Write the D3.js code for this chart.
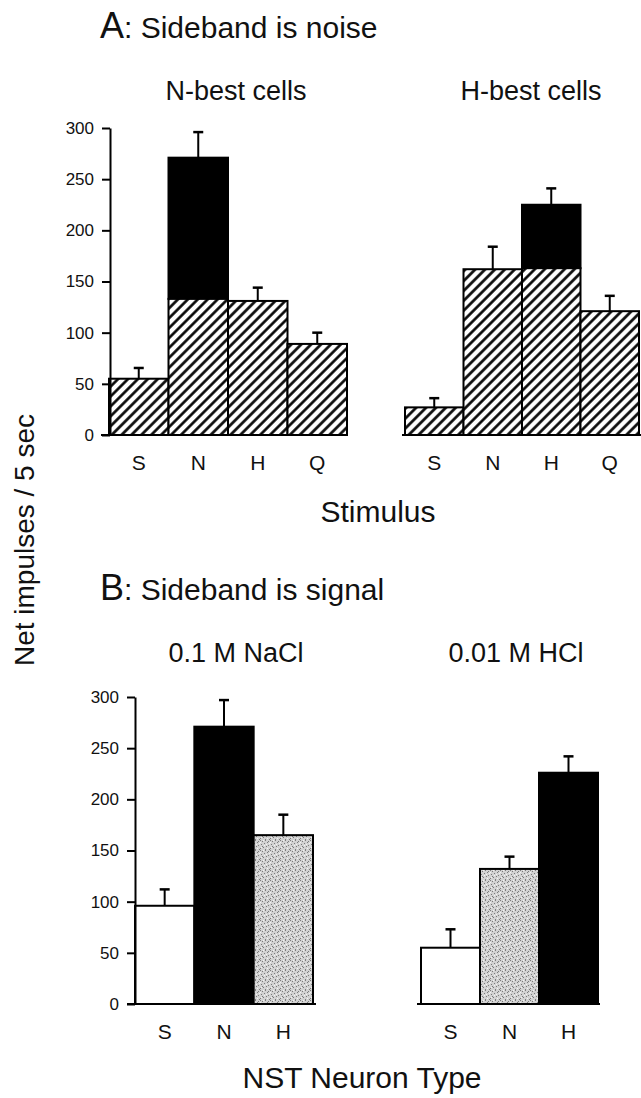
<!DOCTYPE html>
<html>
<head>
<meta charset="utf-8">
<script src="https://cdn.jsdelivr.net/npm/d3@7"></script>
<style>
  body { margin: 0; background: #fff; }
  svg text { font-family: "Liberation Sans", Arial, sans-serif; fill: #111; }
</style>
</head>
<body>
<div id="chart"></div>
<script>
// panel A: sideband is noise
const stimuli = ["S", "N", "H", "Q"];
const nBestBase = [55, 133, 131, 89];      // hatched part
const nBestTotal = [55, 271, 131, 89];     // total incl. sideband (black)
const nBestSem = [10.5, 25, 13, 11];
const hBestBase = [27, 162, 163, 121];
const hBestTotal = [27, 162, 225, 121];
const hBestSem = [9, 22, 16, 15];

// panel B: sideband is signal
const neuronTypes = ["S", "N", "H"];
const naclMean = [96, 271, 165];
const naclSem = [16, 26, 20];
const naclFill = ["white", "black", "gray"];
const hclMean = [55, 132, 226];
const hclSem = [18, 12, 16];
const hclFill = ["white", "gray", "black"];

const yTicks = [0, 50, 100, 150, 200, 250, 300];

const svg = d3.select("#chart").append("svg")
    .attr("width", 641)
    .attr("height", 1098);

// patterns
const defs = svg.append("defs");
const hatch = defs.append("pattern")
    .attr("id", "hatch")
    .attr("patternUnits", "userSpaceOnUse")
    .attr("width", 7).attr("height", 7)
    .attr("patternTransform", "rotate(45)");
hatch.append("rect").attr("width", 7).attr("height", 7).attr("fill", "white");
hatch.append("line")
    .attr("x1", 1.5).attr("y1", 0).attr("x2", 1.5).attr("y2", 7)
    .attr("stroke", "black").attr("stroke-width", 2.6);

// stippled grey (scanned halftone look)
const stip = defs.append("pattern")
    .attr("id", "stipple")
    .attr("patternUnits", "userSpaceOnUse")
    .attr("width", 10).attr("height", 10);
stip.append("rect").attr("width", 10).attr("height", 10).attr("fill", "#d2d2d2");
const darkDots = [[0,0],[2,1],[5,0],[7,2],[1,4],[4,3],[8,5],[6,6],[3,7],[0,8],[9,9],[5,9],[2,6],[8,1]];
const whiteDots = [[3,0],[9,3],[6,4],[1,7],[7,8],[4,5],[0,2]];
darkDots.forEach(p => stip.append("rect").attr("x", p[0]).attr("y", p[1])
    .attr("width", 1).attr("height", 1).attr("fill", "#7a7a7a"));
whiteDots.forEach(p => stip.append("rect").attr("x", p[0]).attr("y", p[1])
    .attr("width", 1).attr("height", 1).attr("fill", "#f4f4f4"));

const fillFor = { white: "white", black: "black", gray: "url(#stipple)" };

function drawPanel(opt) {
  const x = d3.scaleBand().domain(opt.cats).range(opt.xRange).padding(0);
  const y = d3.scaleLinear().domain([0, 300]).range(opt.yRange);
  const g = svg.append("g");

  const rows = opt.cats.map((c, i) => ({
    cat: c,
    base: opt.base[i],
    total: opt.total[i],
    sem: opt.sem[i],
    fill: opt.fills ? opt.fills[i] : null
  }));

  // error bars
  const eb = g.selectAll(".err").data(rows).enter().append("g");
  eb.append("line")
    .attr("x1", d => x(d.cat) + x.bandwidth() / 2)
    .attr("x2", d => x(d.cat) + x.bandwidth() / 2)
    .attr("y1", d => y(d.total))
    .attr("y2", d => y(d.total + d.sem))
    .attr("stroke", "black").attr("stroke-width", 2);
  eb.append("line")
    .attr("x1", d => x(d.cat) + x.bandwidth() / 2 - 5)
    .attr("x2", d => x(d.cat) + x.bandwidth() / 2 + 5)
    .attr("y1", d => y(d.total + d.sem))
    .attr("y2", d => y(d.total + d.sem))
    .attr("stroke", "black").attr("stroke-width", 2.5);

  // black sideband part
  g.selectAll(".side").data(rows.filter(d => d.total > d.base)).enter().append("rect")
    .attr("x", d => x(d.cat))
    .attr("width", x.bandwidth())
    .attr("y", d => y(d.total))
    .attr("height", d => y(d.base) - y(d.total))
    .attr("fill", "black").attr("stroke", "black").attr("stroke-width", 2);

  // main bars
  g.selectAll(".bar").data(rows).enter().append("rect")
    .attr("x", d => x(d.cat))
    .attr("width", x.bandwidth())
    .attr("y", d => y(d.base))
    .attr("height", d => y(0) - y(d.base))
    .attr("fill", d => d.fill ? fillFor[d.fill] : "url(#hatch)")
    .attr("stroke", "black").attr("stroke-width", 2);

  // baseline
  g.append("line")
    .attr("x1", opt.baseline[0]).attr("x2", opt.baseline[1])
    .attr("y1", y(0)).attr("y2", y(0))
    .attr("stroke", "black").attr("stroke-width", 2);

  // y axis
  if (opt.yAxisX != null) {
    const ax = g.append("g")
      .attr("transform", `translate(${opt.yAxisX},0)`)
      .call(d3.axisLeft(y).tickValues(yTicks).tickSize(8).tickSizeOuter(0).tickPadding(8));
    ax.select(".domain").attr("stroke-width", 2);
    ax.selectAll(".tick line").attr("stroke-width", 2);
    ax.selectAll("text").style("font-size", "17px").attr("fill", "#111");
  }

  // x labels
  const xa = g.append("g")
    .attr("transform", `translate(0,${y(0)})`)
    .call(d3.axisBottom(x).tickSize(0).tickPadding(20));
  xa.select(".domain").remove();
  xa.selectAll("text").style("font-size", "21px").attr("fill", "#111");

  // subtitle
  svg.append("text")
    .attr("x", opt.titleX).attr("y", opt.titleY)
    .attr("text-anchor", "middle")
    .style("font-size", "27px")
    .text(opt.title);
}

drawPanel({
  cats: stimuli, base: nBestBase, total: nBestTotal, sem: nBestSem,
  xRange: [109, 347], yRange: [435, 128], baseline: [101, 348], yAxisX: 110,
  title: "N-best cells", titleX: 236, titleY: 100
});
drawPanel({
  cats: stimuli, base: hBestBase, total: hBestTotal, sem: hBestSem,
  xRange: [405, 639], yRange: [435, 128], baseline: [402, 641], yAxisX: null,
  title: "H-best cells", titleX: 531, titleY: 100
});
drawPanel({
  cats: neuronTypes, base: naclMean, total: naclMean, sem: naclSem, fills: naclFill,
  xRange: [135, 313], yRange: [1004, 697], baseline: [127, 316], yAxisX: 135,
  title: "0.1 M NaCl", titleX: 236, titleY: 662
});
drawPanel({
  cats: neuronTypes, base: hclMean, total: hclMean, sem: hclSem, fills: hclFill,
  xRange: [421, 598], yRange: [1004, 697], baseline: [417, 600], yAxisX: null,
  title: "0.01 M HCl", titleX: 516, titleY: 662
});

// section titles
const tA = svg.append("text").attr("x", 100).attr("y", 38);
tA.append("tspan").style("font-size", "36px").text("A");
tA.append("tspan").style("font-size", "30px").text(": Sideband is noise");

const tB = svg.append("text").attr("x", 100).attr("y", 600);
tB.append("tspan").style("font-size", "36px").text("B");
tB.append("tspan").style("font-size", "30px").text(": Sideband is signal");

// axis titles
svg.append("text")
  .attr("x", 378).attr("y", 522)
  .attr("text-anchor", "middle")
  .style("font-size", "30px")
  .text("Stimulus");

svg.append("text")
  .attr("x", 362).attr("y", 1088)
  .attr("text-anchor", "middle")
  .style("font-size", "30px")
  .text("NST Neuron Type");

svg.append("text")
  .attr("transform", "translate(34,540) rotate(-90)")
  .attr("text-anchor", "middle")
  .style("font-size", "28px")
  .text("Net impulses / 5 sec");
</script>
</body>
</html>
